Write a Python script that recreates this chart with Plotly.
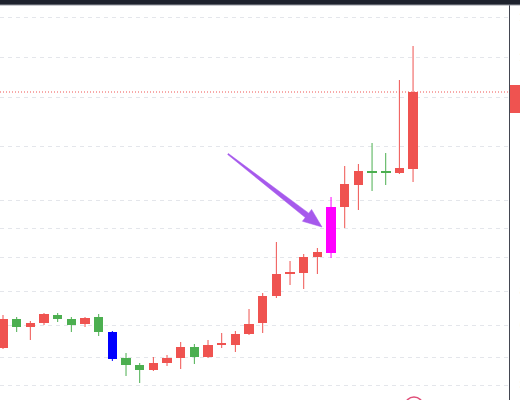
import plotly.graph_objects as go

# ---- data (price units) ----
idx = list(range(31))
open_ = [5.60, 7.05, 6.65, 6.85, 7.25, 7.05, 6.80, 7.15, 6.40, 5.10, 4.75, 4.50, 4.85, 5.10, 5.65, 5.15,
         5.75, 5.75, 6.30, 6.85, 8.20, 9.30, 9.35, 10.15, 10.35, 12.65, 13.75, 14.45, 14.40, 14.35, 14.55]
high = [7.25, 7.15, 6.95, 7.35, 7.35, 7.15, 7.15, 7.30, 6.45, 5.35, 4.85, 5.15, 5.25, 5.90, 5.80, 6.00,
        6.35, 6.45, 7.55, 8.35, 10.90, 9.95, 10.30, 10.60, 13.15, 14.70, 14.80, 15.85, 15.35, 19.00, 20.70]
low = [5.55, 6.40, 6.00, 6.75, 6.90, 6.40, 6.65, 6.20, 4.95, 4.20, 3.85, 4.45, 4.70, 4.55, 4.80, 5.10,
       5.60, 5.40, 6.25, 6.35, 8.10, 8.75, 8.55, 9.30, 10.10, 11.60, 12.50, 13.45, 13.75, 14.30, 13.90]
close = [7.05, 6.65, 6.85, 7.30, 7.05, 6.75, 7.10, 6.40, 5.05, 4.75, 4.50, 4.85, 5.10, 5.65, 5.15, 5.75,
         5.80, 6.30, 6.80, 8.20, 9.30, 9.35, 10.15, 10.40, 12.65, 13.80, 14.45, 14.35, 14.35, 14.60, 18.40]
grid_prices = [3.75, 5.15, 6.75, 8.45, 10.15, 11.60, 13.00, 15.70, 18.15, 20.15, 22.15]
highlight = {8: "#0000ff", 24: "#ff00ff"}

UP = "#ef5350"
DOWN = "#4caf50"
ARROW = "#a659ec"
Y_MIN, Y_MAX = 3.0, 22.75
X_MIN, X_MAX = -0.22, 37.02

colors = []
for i in idx:
    if i in highlight:
        colors.append(highlight[i])
    elif close[i] >= open_[i]:
        colors.append(UP)
    else:
        colors.append(DOWN)

fig = go.Figure()

# wicks, one trace per colour
for col in dict.fromkeys(colors):
    xs, ys = [], []
    for i in idx:
        if colors[i] == col:
            xs += [i, i, None]
            ys += [low[i], high[i], None]
    fig.add_trace(go.Scatter(x=xs, y=ys, mode="lines", line=dict(color=col, width=1),
                             hoverinfo="skip", showlegend=False))

# bodies
base = [min(o, c) for o, c in zip(open_, close)]
height = [max(abs(c - o), 0.1) for o, c in zip(open_, close)]
fig.add_trace(go.Bar(x=idx, y=height, base=base, width=0.7,
                     marker=dict(color=colors, line=dict(width=0)), showlegend=False))

plot_h = 395.0
plot_w = 509.0

def py(p):
    return (p - Y_MIN) / (Y_MAX - Y_MIN)

# tapered drawing arrow (a hand-drawn annotation), built in pixel space
tail = (228.0, 154.0)
tip = (322.0, 227.0)
dx, dy = tip[0] - tail[0], tip[1] - tail[1]
L = (dx * dx + dy * dy) ** 0.5
ux, uy = dx / L, dy / L
nx, ny = -uy, ux
bx, by = tail[0] + ux * (L - 19), tail[1] + uy * (L - 19)
pts = [
    (tail[0] + nx * 0.6, tail[1] + ny * 0.6),
    (bx + nx * 2.8, by + ny * 2.8),
    (bx + nx * 7.5, by + ny * 7.5),
    tip,
    (bx - nx * 7.5, by - ny * 7.5),
    (bx - nx * 2.8, by - ny * 2.8),
    (tail[0] - nx * 0.6, tail[1] - ny * 0.6),
]
path = "M " + " L ".join(f"{px / plot_w:.5f},{(400 - pyy) / plot_h:.5f}" for px, pyy in pts) + " Z"

last = close[-1]
shapes = [
    # last price dotted line
    dict(type="line", xref="paper", yref="y", x0=0, x1=1, y0=last, y1=last,
         line=dict(color=UP, width=1, dash="1px,2px"), layer="below"),
    # price label box on the axis
    dict(type="rect", xref="paper", yref="paper", x0=1.002, x1=1 + 12 / plot_w,
         y0=py(last - 1.05), y1=py(last + 0.35), fillcolor=UP, line=dict(width=0)),
    # top toolbar strip
    dict(type="rect", xref="paper", yref="paper", x0=-0.01, x1=1.05,
         y0=1.0, y1=1 + 6 / plot_h, fillcolor="#1e222d", line=dict(width=0)),
    dict(type="line", xref="paper", yref="paper", x0=-0.01, x1=1.05,
         y0=1.0, y1=1.0, line=dict(color="#9598a1", width=1)),
    # logo ring at the bottom
    dict(type="circle", xref="paper", yref="paper", x0=405 / plot_w, x1=423 / plot_w,
         y0=-15 / plot_h, y1=3 / plot_h, line=dict(color="#e0507a", width=1.5)),
    # arrow
    dict(type="path", xref="paper", yref="paper", path=path, fillcolor=ARROW,
         line=dict(color=ARROW, width=0.5)),
]

fig.update_layout(
    width=520, height=400,
    margin=dict(l=0, r=11, t=5, b=0, autoexpand=False),
    paper_bgcolor="white", plot_bgcolor="white",
    showlegend=False,
    bargap=0,
    hovermode=False,
    shapes=shapes,
    xaxis=dict(range=[X_MIN, X_MAX], showgrid=False, zeroline=False, showticklabels=False,
               showline=False, fixedrange=True, automargin=False),
    yaxis=dict(range=[Y_MIN, Y_MAX], side="right", tickvals=grid_prices, tickformat=".2f",
               showgrid=True, gridcolor="#e4e6eb", gridwidth=1, griddash="4px,4px",
               zeroline=False, showline=True, linecolor="#434651", linewidth=1,
               ticks="", ticklabelstandoff=7, automargin=False, fixedrange=True,
               tickfont=dict(family="Roboto", size=12, color="#b2b5be")),
)

fig.write_html("out.html", config={"displayModeBar": False, "staticPlot": True},
               post_script="document.body.style.margin='0px';")
